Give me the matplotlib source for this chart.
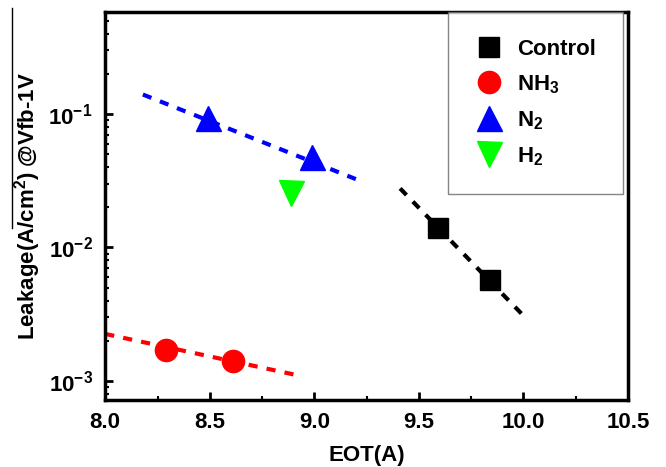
import matplotlib
matplotlib.use('Agg')
import matplotlib.pyplot as plt
from matplotlib.ticker import LogLocator, NullFormatter, MultipleLocator

plt.rcParams['font.family'] = ['Liberation Sans', 'DejaVu Sans']
plt.rcParams['font.weight'] = 'bold'
plt.rcParams['mathtext.fontset'] = 'custom'
plt.rcParams['mathtext.rm'] = 'Liberation Sans:bold'
plt.rcParams['mathtext.bf'] = 'Liberation Sans:bold'
plt.rcParams['mathtext.default'] = 'bf'

# measured points
control_x = [9.59, 9.84]
control_y = [0.0141, 0.0057]
nh3_x = [8.29, 8.61]
nh3_y = [0.0017, 0.0014]
n2_x = [8.49, 8.99]
n2_y = [0.093, 0.048]
h2_x = [8.89]
h2_y = [0.0255]

# dashed trend lines (end points)
control_fit_x = [9.41, 9.99]
control_fit_y = [0.0277, 0.0032]
nh3_fit_x = [8.0, 8.90]
nh3_fit_y = [0.00225, 0.00112]
n2_fit_x = [8.18, 9.21]
n2_fit_y = [0.14, 0.032]

fig = plt.figure(figsize=(6.66, 4.67), dpi=100)
ax = fig.add_axes([0.158, 0.1435, 0.785, 0.8305])

dash = (0, (2.2, 2.2))
ax.plot(control_fit_x, control_fit_y, color='black', lw=3, linestyle=dash)
ax.plot(nh3_fit_x, nh3_fit_y, color='red', lw=3, linestyle=dash)
ax.plot(n2_fit_x, n2_fit_y, color='blue', lw=3, linestyle=dash)

ax.plot(control_x, control_y, 's', color='black', ms=15, label='Control', zorder=3)
ax.plot(nh3_x, nh3_y, 'o', color='red', ms=16, label='NH$_3$', zorder=3)
ax.plot(n2_x, n2_y, '^', color='blue', ms=18, label='N$_2$', zorder=3)
ax.plot(h2_x, h2_y, 'v', color='#00ff00', ms=18, label='H$_2$', zorder=3)

ax.set_yscale('log')
ax.set_xlim(8.0, 10.5)
ax.set_ylim(7.2e-4, 0.58)
ax.xaxis.set_major_locator(MultipleLocator(0.5))
ax.xaxis.set_minor_locator(MultipleLocator(0.25))
ax.yaxis.set_major_locator(LogLocator(base=10, numticks=10))
ax.yaxis.set_minor_locator(LogLocator(base=10, subs=range(2, 10), numticks=10))
ax.yaxis.set_minor_formatter(NullFormatter())
ax.xaxis.set_major_formatter(plt.FuncFormatter(lambda v, p: f'{v:.1f}'))

for s in ax.spines.values():
    s.set_linewidth(2.5)
ax.tick_params(which='major', direction='in', length=6, width=2, labelsize=16, pad=9)
ax.tick_params(which='minor', direction='in', length=3, width=1.5)
ax.tick_params(top=False, right=False)

ax.set_xlabel('EOT(A)', fontsize=16, fontweight='bold', labelpad=8)
ax.set_ylabel('Leakage(A/cm$^2$) @Vfb-1V', fontsize=16, fontweight='bold', labelpad=4)

leg = ax.legend(loc='upper right', bbox_to_anchor=(0.99, 1.0), fontsize=16,
                frameon=True, fancybox=False, borderpad=1.2, labelspacing=0.6,
                handlelength=1.3, handletextpad=0.6, borderaxespad=0)
leg.get_frame().set_edgecolor('#666666')
leg.get_frame().set_linewidth(1)

# overline across the y label
fig.add_artist(plt.Line2D([12 / 666, 12 / 666], [1 - 8 / 467, 1 - 228 / 467],
                          color='black', lw=1))

fig.savefig('out.png', dpi=100)
